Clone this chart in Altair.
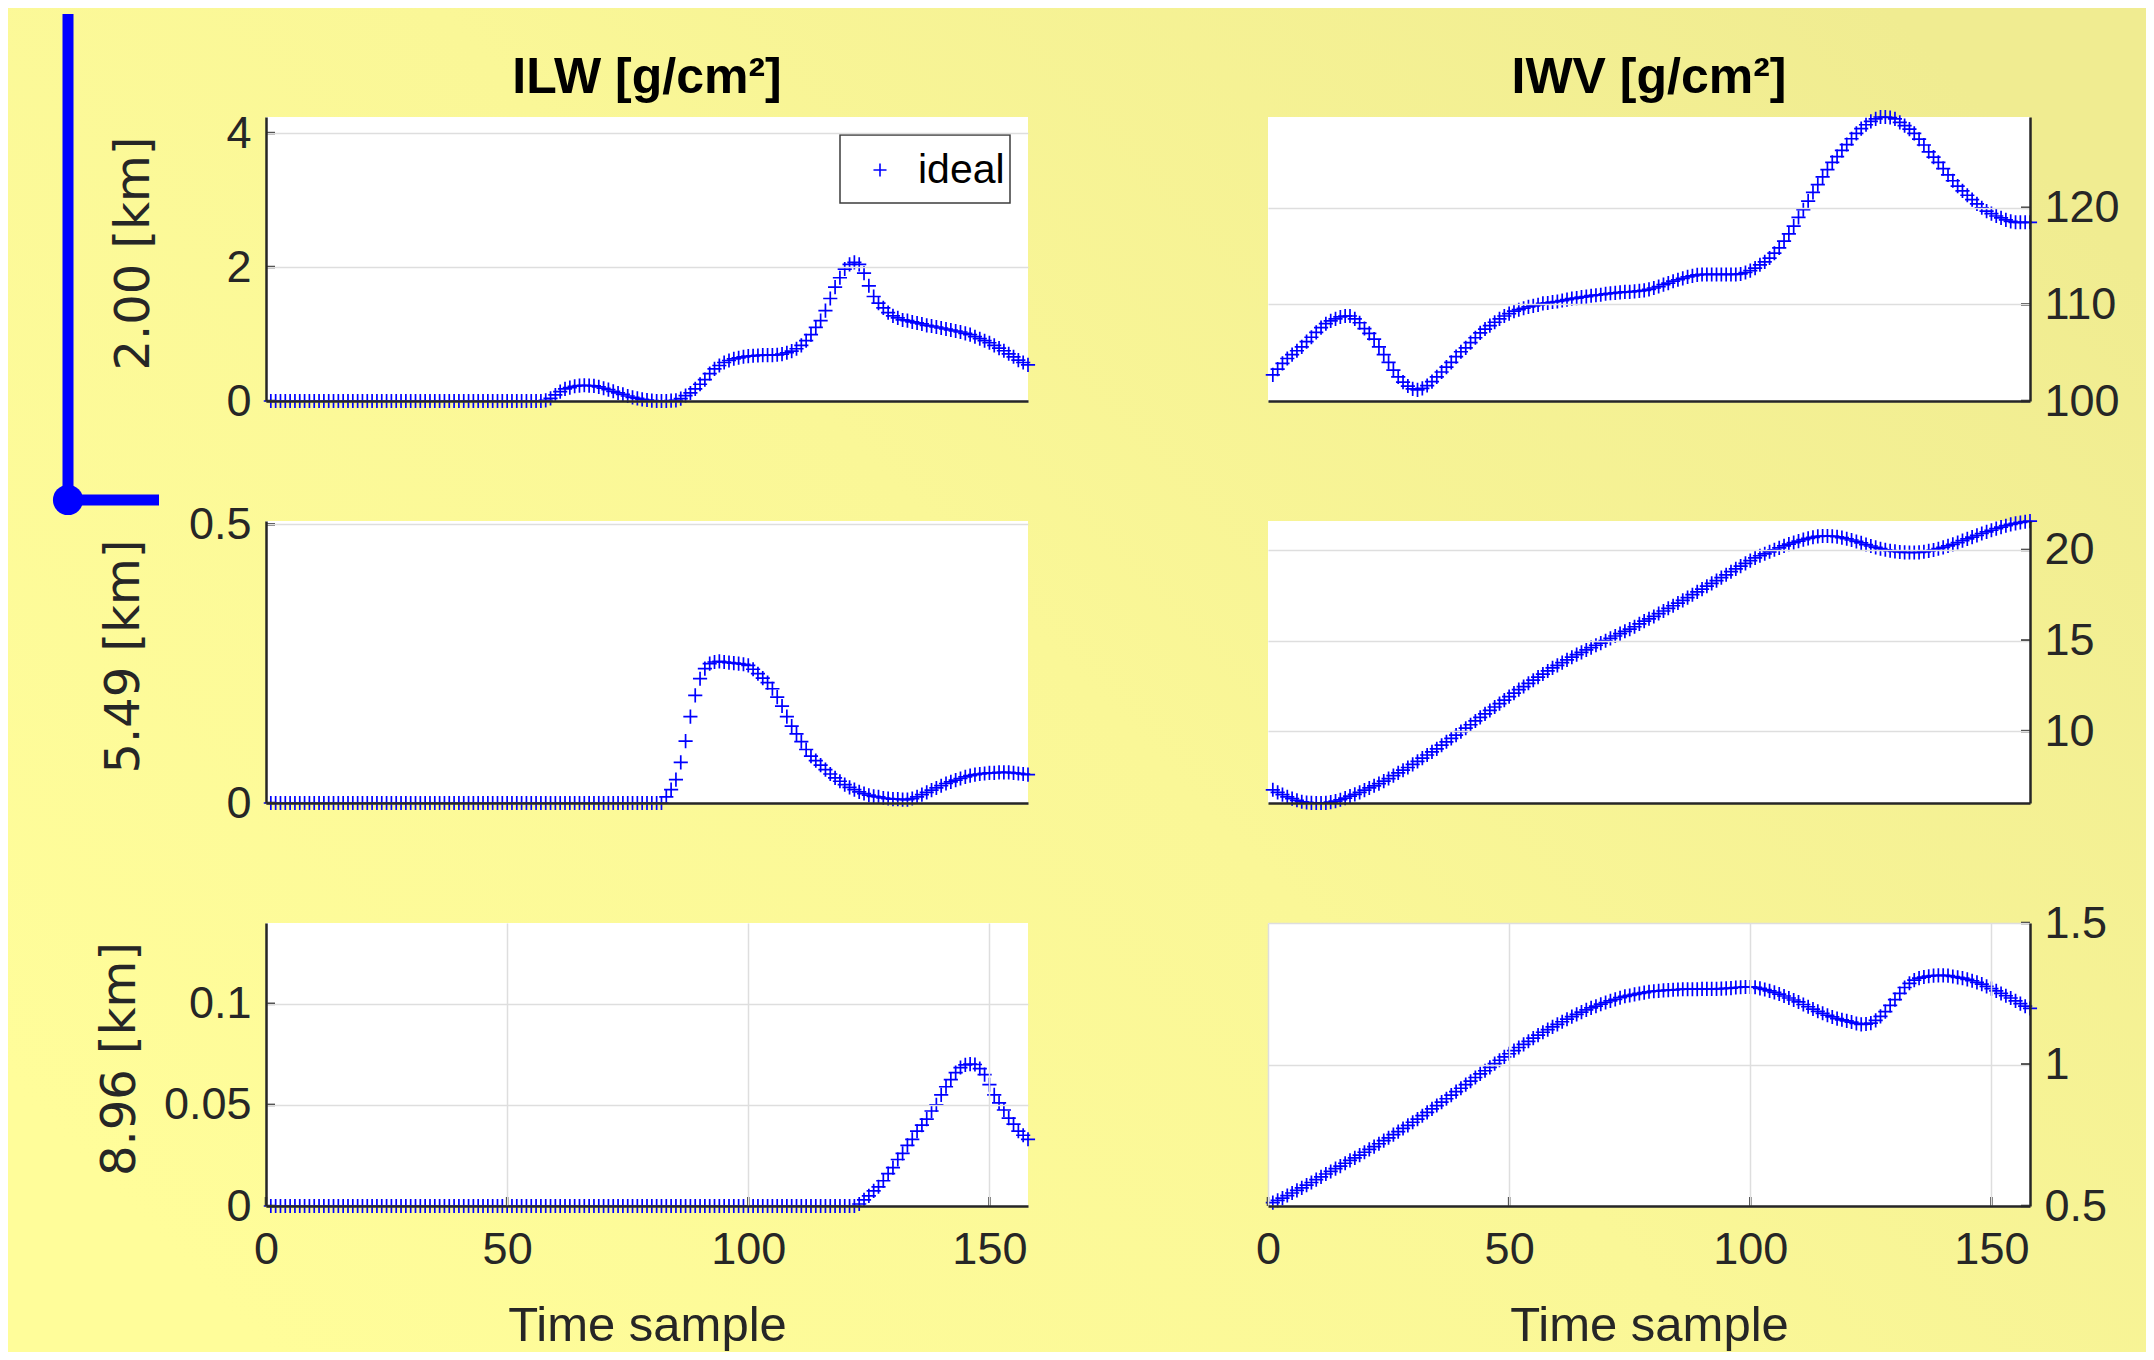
import altair as alt
import pandas as pd

# ---------------- values ----------------
x_sample = list(range(1, 159))

ilw_200 = [
    0, 0, 0, 0, 0, 0, 0, 0, 0, 0,
    0, 0, 0, 0, 0, 0, 0, 0, 0, 0,
    0, 0, 0, 0, 0, 0, 0, 0, 0, 0,
    0, 0, 0, 0, 0, 0, 0, 0, 0, 0,
    0, 0, 0, 0, 0, 0, 0, 0, 0, 0,
    0, 0, 0, 0, 0, 0, 0, 0.01, 0.04, 0.09,
    0.14, 0.18, 0.2, 0.22, 0.23, 0.235, 0.23, 0.225, 0.21, 0.19,
    0.17, 0.145, 0.12, 0.1, 0.075, 0.055, 0.04, 0.025, 0.015, 0.005,
    0, 0, 0, 0.005, 0.01, 0.035, 0.08, 0.12, 0.18, 0.25,
    0.32, 0.41, 0.48, 0.53, 0.575, 0.605, 0.63, 0.645, 0.66, 0.67,
    0.675, 0.68, 0.685, 0.685, 0.685, 0.69, 0.7, 0.72, 0.745, 0.78,
    0.83, 0.9, 0.99, 1.1, 1.2, 1.35, 1.53, 1.7, 1.84, 1.97,
    2.04, 2.07, 2.04, 1.91, 1.72, 1.56, 1.46, 1.39, 1.32, 1.27,
    1.24, 1.21, 1.2, 1.18, 1.165, 1.15, 1.13, 1.12, 1.105, 1.09,
    1.075, 1.06, 1.045, 1.03, 1.01, 0.99, 0.96, 0.93, 0.9, 0.87,
    0.83, 0.79, 0.75, 0.705, 0.66, 0.61, 0.575, 0.54,
]

ilw_549 = [
    0, 0, 0, 0, 0, 0, 0, 0, 0, 0,
    0, 0, 0, 0, 0, 0, 0, 0, 0, 0,
    0, 0, 0, 0, 0, 0, 0, 0, 0, 0,
    0, 0, 0, 0, 0, 0, 0, 0, 0, 0,
    0, 0, 0, 0, 0, 0, 0, 0, 0, 0,
    0, 0, 0, 0, 0, 0, 0, 0, 0, 0,
    0, 0, 0, 0, 0, 0, 0, 0, 0, 0,
    0, 0, 0, 0, 0, 0, 0, 0, 0, 0,
    0, 0, 0.011, 0.024, 0.042, 0.073, 0.111, 0.155, 0.193, 0.223,
    0.241, 0.25, 0.253, 0.254, 0.253, 0.252, 0.251, 0.25, 0.249, 0.247,
    0.24, 0.232, 0.224, 0.216, 0.205, 0.19, 0.174, 0.155, 0.138, 0.124,
    0.11, 0.096, 0.084, 0.076, 0.068, 0.06, 0.052, 0.045, 0.039, 0.033,
    0.028, 0.024, 0.02, 0.017, 0.014, 0.012, 0.011, 0.009, 0.008, 0.007,
    0.007, 0.006, 0.006, 0.008, 0.011, 0.015, 0.019, 0.023, 0.027, 0.031,
    0.035, 0.038, 0.041, 0.044, 0.047, 0.049, 0.051, 0.052, 0.053, 0.054,
    0.054, 0.055, 0.055, 0.055, 0.054, 0.053, 0.052, 0.051,
]

ilw_896 = [
    0, 0, 0, 0, 0, 0, 0, 0, 0, 0,
    0, 0, 0, 0, 0, 0, 0, 0, 0, 0,
    0, 0, 0, 0, 0, 0, 0, 0, 0, 0,
    0, 0, 0, 0, 0, 0, 0, 0, 0, 0,
    0, 0, 0, 0, 0, 0, 0, 0, 0, 0,
    0, 0, 0, 0, 0, 0, 0, 0, 0, 0,
    0, 0, 0, 0, 0, 0, 0, 0, 0, 0,
    0, 0, 0, 0, 0, 0, 0, 0, 0, 0,
    0, 0, 0, 0, 0, 0, 0, 0, 0, 0,
    0, 0, 0, 0, 0, 0, 0, 0, 0, 0,
    0, 0, 0, 0, 0, 0, 0, 0, 0, 0,
    0, 0, 0, 0, 0, 0, 0, 0, 0, 0,
    0, 0, 0.001, 0.003, 0.005, 0.0075, 0.0095, 0.0125, 0.016, 0.019,
    0.023, 0.026, 0.03, 0.033, 0.037, 0.04, 0.043, 0.047, 0.05, 0.055,
    0.059, 0.0625, 0.066, 0.0685, 0.0698, 0.0702, 0.07, 0.068, 0.065, 0.06,
    0.055, 0.051, 0.0475, 0.0435, 0.0405, 0.037, 0.035, 0.033,
]

iwv_200 = [
    102.7, 103.3, 103.9, 104.4, 104.8, 105.2, 105.6, 106.15, 106.6, 107.1,
    107.6, 108.0, 108.3, 108.5, 108.7, 108.8, 108.8, 108.5, 108.1, 107.5,
    107.0, 106.4, 105.6, 104.8, 104.0, 103.2, 102.5, 101.95, 101.55, 101.25,
    101.15, 101.3, 101.6, 102.0, 102.5, 103.0, 103.5, 104.0, 104.6, 105.1,
    105.5, 106.05, 106.55, 107.05, 107.45, 107.8, 108.15, 108.5, 108.8, 109.05,
    109.3, 109.45, 109.6, 109.75, 109.85, 109.95, 110.1, 110.15, 110.25, 110.3,
    110.4, 110.5, 110.6, 110.65, 110.75, 110.8, 110.9, 110.95, 111.0, 111.1,
    111.15, 111.2, 111.25, 111.3, 111.3, 111.35, 111.4, 111.45, 111.55, 111.7,
    111.85, 112.05, 112.2, 112.4, 112.55, 112.7, 112.85, 112.95, 113.05, 113.1,
    113.1, 113.1, 113.1, 113.1, 113.1, 113.1, 113.1, 113.15, 113.3, 113.5,
    113.75, 114.1, 114.4, 114.8, 115.3, 115.85, 116.55, 117.3, 118.1, 119.0,
    119.8, 120.7, 121.6, 122.4, 123.2, 123.95, 124.7, 125.3, 125.95, 126.55,
    127.15, 127.7, 128.2, 128.6, 128.95, 129.2, 129.4, 129.4, 129.35, 129.2,
    128.85, 128.5, 128.15, 127.7, 127.1, 126.5, 125.8, 125.25, 124.7, 124.05,
    123.4, 122.8, 122.25, 121.75, 121.3, 120.85, 120.4, 120.0, 119.65, 119.4,
    119.15, 118.95, 118.75, 118.6, 118.5, 118.5, 118.5, 118.5,
]

iwv_549 = [
    6.76, 6.62, 6.49, 6.37, 6.27, 6.18, 6.1, 6.06, 6.04, 6.03,
    6.03, 6.04, 6.08, 6.13, 6.21, 6.3, 6.41, 6.51, 6.62, 6.74,
    6.86, 6.98, 7.1, 7.24, 7.38, 7.54, 7.69, 7.84, 7.99, 8.16,
    8.33, 8.51, 8.68, 8.85, 9.02, 9.22, 9.41, 9.6, 9.78, 9.97,
    10.16, 10.35, 10.56, 10.76, 10.95, 11.14, 11.33, 11.52, 11.71, 11.9,
    12.1, 12.29, 12.46, 12.64, 12.81, 12.98, 13.15, 13.32, 13.49, 13.63,
    13.78, 13.93, 14.08, 14.22, 14.35, 14.48, 14.61, 14.74, 14.86, 14.99,
    15.12, 15.25, 15.38, 15.51, 15.63, 15.76, 15.92, 16.07, 16.2, 16.33,
    16.49, 16.63, 16.78, 16.92, 17.07, 17.22, 17.37, 17.53, 17.69, 17.84,
    18.0, 18.16, 18.31, 18.47, 18.63, 18.8, 18.96, 19.11, 19.26, 19.41,
    19.56, 19.68, 19.79, 19.9, 20.01, 20.12, 20.23, 20.32, 20.41, 20.49,
    20.57, 20.64, 20.7, 20.75, 20.77, 20.77, 20.76, 20.73, 20.68, 20.62,
    20.55, 20.47, 20.39, 20.3, 20.22, 20.14, 20.07, 20.01, 19.96, 19.92,
    19.89, 19.87, 19.86, 19.86, 19.87, 19.9, 19.95, 20.0, 20.07, 20.14,
    20.23, 20.31, 20.41, 20.52, 20.61, 20.71, 20.81, 20.91, 21.0, 21.09,
    21.18, 21.26, 21.34, 21.41, 21.47, 21.52, 21.56, 21.59,
]

iwv_896 = [
    0.512, 0.52, 0.528, 0.537, 0.546, 0.555, 0.564, 0.574, 0.583, 0.593,
    0.603, 0.613, 0.622, 0.632, 0.641, 0.651, 0.661, 0.67, 0.68, 0.69,
    0.7, 0.71, 0.72, 0.731, 0.741, 0.752, 0.763, 0.774, 0.785, 0.796,
    0.807, 0.819, 0.831, 0.843, 0.855, 0.867, 0.879, 0.892, 0.904, 0.916,
    0.929, 0.941, 0.954, 0.967, 0.978, 0.99, 1.003, 1.015, 1.027, 1.038,
    1.049, 1.06, 1.071, 1.082, 1.093, 1.104, 1.114, 1.123, 1.133, 1.142,
    1.151, 1.16, 1.169, 1.177, 1.185, 1.193, 1.2, 1.206, 1.213, 1.219,
    1.225, 1.23, 1.236, 1.241, 1.244, 1.248, 1.251, 1.254, 1.257, 1.259,
    1.26, 1.262, 1.263, 1.264, 1.265, 1.266, 1.266, 1.266, 1.266, 1.267,
    1.267, 1.267, 1.267, 1.268, 1.269, 1.27, 1.272, 1.273, 1.274, 1.274,
    1.273, 1.269, 1.265, 1.26, 1.255, 1.249, 1.242, 1.235, 1.228, 1.221,
    1.212, 1.204, 1.196, 1.188, 1.181, 1.174, 1.168, 1.162, 1.158, 1.154,
    1.15, 1.145, 1.142, 1.143, 1.146, 1.156, 1.17, 1.187, 1.209, 1.229,
    1.251, 1.272, 1.287, 1.298, 1.305, 1.309, 1.312, 1.314, 1.315, 1.315,
    1.314, 1.311, 1.308, 1.305, 1.301, 1.296, 1.29, 1.284, 1.276, 1.268,
    1.26, 1.251, 1.243, 1.235, 1.225, 1.215, 1.206, 1.198,
]

row_titles = ["2.00 [km]", "5.49 [km]", "8.96 [km]"]
col_titles = ["ILW [g/cm²]", "IWV [g/cm²]"]
ilw_domains = [[0, 4.24], [0, 0.506], [0, 0.14]]
iwv_domains = [[100, 129.4], [6.03, 21.6], [0.5, 1.5]]
ilw_ticks = [[0, 2, 4], [0, 0.5], [0, 0.05, 0.1]]
iwv_ticks = [[100, 110, 120], [10, 15, 20], [0.5, 1, 1.5]]
x_ticks = [0, 50, 100, 150]
x_domain = [0, 158]
legend_label = "ideal"
x_title = "Time sample"

series = [[ilw_200, iwv_200], [ilw_549, iwv_549], [ilw_896, iwv_896]]

# ---------------- styling ----------------
W = 762
HEIGHTS = [284, 282, 283]
TITLE_OFFSETS = [108, 118, 122]
BLUE = "#0000ff"
AX = "#262626"
GRID = "#dedede"
PLUS = "M-1,0L1,0M0,-1L0,1"
SANS = "Liberation Sans, Arial, Helvetica, sans-serif"
WIDE = "DejaVu Sans, Verdana, sans-serif"
LABEL_EXPR = "'' + datum.value"

one = pd.DataFrame({"k": [0]})


def panel(values, col, row):
    h = HEIGHTS[row]
    bottom = row == 2
    ydom = ilw_domains[row] if col == 0 else iwv_domains[row]
    yt = ilw_ticks[row] if col == 0 else iwv_ticks[row]
    xscale = alt.Scale(domain=x_domain, nice=False, zero=False)
    yscale = alt.Scale(domain=ydom, nice=False, zero=False)

    xaxis_kw = dict(values=x_ticks, labels=bottom, grid=bottom, ticks=False,
                    domain=True, domainColor=AX, domainWidth=2.5,
                    gridColor=GRID, gridWidth=1.5, labelExpr=LABEL_EXPR,
                    labelFont=SANS, labelFontSize=45, labelColor=AX, labelPadding=21,
                    labelFlush=False, zindex=1)
    if bottom:
        xaxis_kw.update(titleFont=SANS, titleFontSize=49, titleFontWeight="normal",
                        titleColor=AX, titleX=W / 2, titleY=134,
                        titleBaseline="alphabetic", titleAlign="center")
    yaxis_kw = dict(orient="left" if col == 0 else "right", values=yt, labelExpr=LABEL_EXPR,
                    grid=True, gridColor=GRID, gridWidth=1.5, ticks=False,
                    domain=True, domainColor=AX, domainWidth=2.5,
                    labelFont=SANS, labelFontSize=45, labelColor=AX,
                    labelPadding=15 if col == 0 else 14,
                    labelFlush=False, zindex=1)
    if col == 0:
        yaxis_kw.update(titleFont=WIDE, titleFontSize=48, titleFontWeight="normal",
                        titleColor=AX, titleAngle=270, titleX=-TITLE_OFFSETS[row],
                        titleY=h / 2 - 6, titleBaseline="bottom", titleAlign="center")
    xaxis = alt.Axis(**xaxis_kw)
    yaxis = alt.Axis(**yaxis_kw)
    xtitle = x_title if bottom else None
    ytitle = row_titles[row] if col == 0 else None

    df = pd.DataFrame({"x": x_sample, "y": values})
    pts = alt.Chart(df).mark_point(shape=PLUS, filled=False, size=200, strokeWidth=1.7,
                                   color=BLUE, opacity=1, clip=False).encode(
        x=alt.X("x:Q", scale=xscale, axis=xaxis, title=xtitle),
        y=alt.Y("y:Q", scale=yscale, axis=yaxis, title=ytitle),
    )

    layers = []
    if col == 0 and row == 0:
        grad = alt.Gradient(gradient="linear",
                            stops=[alt.GradientStop(offset=0, color="#fffd9a"),
                                   alt.GradientStop(offset=0.5, color="#faf797"),
                                   alt.GradientStop(offset=1, color="#f0ec91")],
                            x1=0, y1=0.8, x2=1, y2=0.2)
        bg = alt.Chart(one).mark_rect(fill=grad, strokeWidth=0).encode(
            x=alt.value(-258), x2=alt.value(1880), y=alt.value(-109), y2=alt.value(1235))
        white = alt.Chart(one).mark_rect(fill="white", strokeWidth=0).encode(
            x=alt.value(0), x2=alt.value(W), y=alt.value(0), y2=alt.value(h))
        deco_v = alt.Chart(one).mark_rule(color=BLUE, strokeWidth=11, strokeCap="butt").encode(
            x=alt.value(-198), y=alt.value(-103), y2=alt.value(383))
        deco_h = alt.Chart(one).mark_rule(color=BLUE, strokeWidth=11, strokeCap="butt").encode(
            x=alt.value(-198), x2=alt.value(-107), y=alt.value(383))
        deco_dot = alt.Chart(one).mark_circle(color=BLUE, size=908, opacity=1).encode(
            x=alt.value(-198), y=alt.value(383))
        layers += [bg, white, deco_v, deco_h, deco_dot]

    if row == 0:
        ttl = alt.Chart(one).mark_text(text=col_titles[col], font=SANS, fontSize=50,
                                       fontWeight="bold", color="black",
                                       baseline="alphabetic", align="center").encode(
            x=alt.value(W / 2), y=alt.value(-24))
        layers.append(ttl)

    layers.append(pts)

    # inward tick marks, sharing the panel's scale and axis definition
    ytick = alt.Chart(pd.DataFrame({"y": yt})).mark_rule(color=AX, strokeWidth=2.5).encode(
        y=alt.Y("y:Q", scale=yscale, axis=yaxis, title=ytitle),
        x=alt.value(0 if col == 0 else W - 9),
        x2=alt.value(9 if col == 0 else W),
    )
    layers.append(ytick)
    if bottom:
        xtick = alt.Chart(pd.DataFrame({"x": x_ticks})).mark_rule(color=AX, strokeWidth=2.5).encode(
            x=alt.X("x:Q", scale=xscale, axis=xaxis, title=xtitle),
            y=alt.value(h - 9), y2=alt.value(h),
        )
        layers.append(xtick)

    if col == 0 and row == 0:
        leg_box = alt.Chart(one).mark_rect(fill="white", stroke="#3c3c3c", strokeWidth=1.5).encode(
            x=alt.value(574), x2=alt.value(744), y=alt.value(18), y2=alt.value(86))
        leg_sym = alt.Chart(one).mark_point(shape=PLUS, filled=False, size=170, strokeWidth=1.6,
                                            color=BLUE, opacity=1).encode(
            x=alt.value(614), y=alt.value(53))
        leg_txt = alt.Chart(one).mark_text(text=legend_label, font=SANS, fontSize=41,
                                           color="black", align="left", baseline="middle").encode(
            x=alt.value(652), y=alt.value(54))
        layers += [leg_box, leg_sym, leg_txt]

    return alt.layer(*layers).properties(width=W, height=h)


panels = []
for r in range(3):
    for c in range(2):
        panels.append(panel(series[r][c], c, r))

chart = alt.concat(*panels, columns=2, spacing={"row": 120, "column": 240},
                   bounds="flush").resolve_scale(
    x="independent", y="independent"
).properties(padding=0, background="#fbf998").configure_view(fill="white", strokeWidth=0)

chart.save("out.html", embed_options={"renderer": "svg", "actions": False})
